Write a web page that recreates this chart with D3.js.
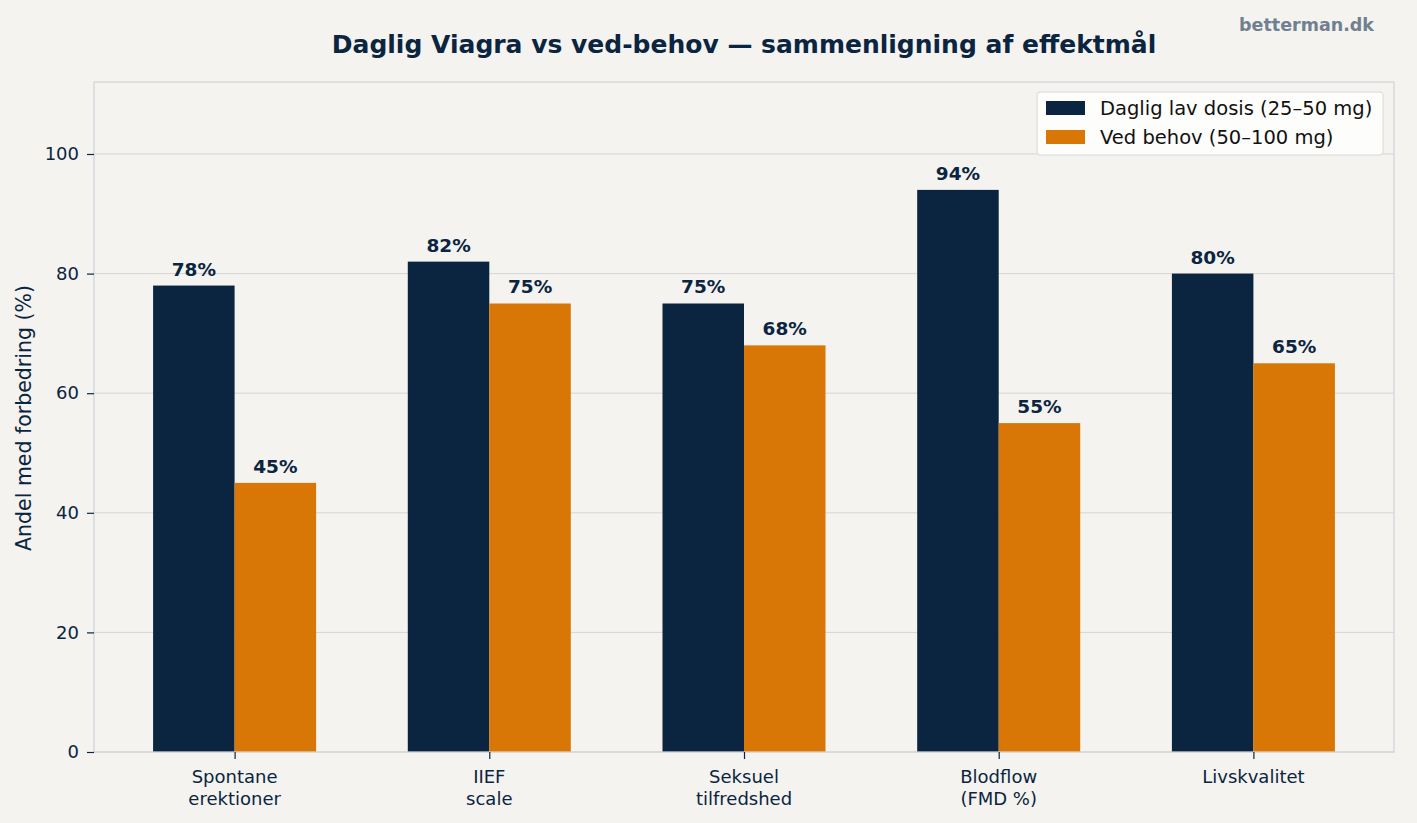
<!DOCTYPE html>
<html><head><meta charset="utf-8">
<script src="https://cdn.jsdelivr.net/npm/d3@7"></script>
<style>
body{margin:0;background:#f4f3ef;}
svg{display:block;font-family:"DejaVu Sans",sans-serif;}
</style></head>
<body><svg id="c" width="1417" height="823"></svg>
<script>
const categories = ["Spontane\nerektioner","IIEF\nscale","Seksuel\ntilfredshed","Blodflow\n(FMD %)","Livskvalitet"];
const dailyValues = [78, 82, 75, 94, 80];
const onDemandValues = [45, 75, 68, 55, 65];
const seriesNames = ["Daglig lav dosis (25–50 mg)", "Ved behov (50–100 mg)"];
const yTicks = [0, 20, 40, 60, 80, 100];
const colors = ["#0b2540", "#d97706"];
const textColor = "#0b2540";

const svg = d3.select("#c");
svg.append("rect").attr("width",1417).attr("height",823).attr("fill","#f4f3ef");
const L=94, R=1394, T=82, B=752;
const barW = 0.32;
const x = d3.scaleLinear().domain([-0.552, 4.552]).range([L, R]);
const y = d3.scaleLinear().domain([0, 112.04]).range([B, T]);

// grid
svg.append("g").selectAll("line").data(yTicks).join("line")
  .attr("x1",L).attr("x2",R).attr("y1",d=>y(d)).attr("y2",d=>y(d))
  .attr("stroke","#d3d5d8").attr("stroke-width",1);

const series = [dailyValues, onDemandValues];
series.forEach((vals, s) => {
  const off = s===0 ? -barW : 0;
  svg.append("g").selectAll("rect").data(vals).join("rect")
    .attr("x", (d,i)=>x(i+off)).attr("width", (d,i)=>x(i+off+barW)-x(i+off))
    .attr("y", d=>y(d)).attr("height", d=>B-y(d)).attr("fill", colors[s]);
  svg.append("g").selectAll("text").data(vals).join("text")
    .attr("x",(d,i)=>x(i+off+barW/2)).attr("y", d=>y(d)-10)
    .attr("text-anchor","middle").attr("font-size",18.5).attr("font-weight","bold")
    .attr("fill",textColor).text(d=>d+"%");
});

// frame
svg.append("rect").attr("x",L).attr("y",T).attr("width",R-L).attr("height",B-T)
  .attr("fill","none").attr("stroke","#d3d5d8").attr("stroke-width",1.3);

// y axis
const yAxis = svg.append("g").attr("transform",`translate(${L},0)`)
  .call(d3.axisLeft(y).tickValues(yTicks).tickSize(7).tickPadding(8));
yAxis.select(".domain").remove();
yAxis.selectAll("line").attr("stroke",textColor).attr("stroke-width",1.2);
yAxis.selectAll("text").attr("font-size",18).attr("fill",textColor).attr("font-family","DejaVu Sans");

// x axis
const xAxis = svg.append("g").attr("transform",`translate(0,${B})`)
  .call(d3.axisBottom(x).tickValues(d3.range(categories.length)).tickSize(7).tickFormat(""));
xAxis.select(".domain").remove();
xAxis.selectAll("line").attr("stroke",textColor).attr("stroke-width",1.2);
categories.forEach((c,i)=>{
  const t = svg.append("text").attr("x",x(i)).attr("y",783).attr("text-anchor","middle")
    .attr("font-size",18).attr("fill",textColor);
  c.split("\n").forEach((ln,j)=>t.append("tspan").attr("x",x(i)).attr("dy",j===0?0:22).text(ln));
});

// y label
svg.append("text").attr("transform",`translate(31,${(T+B)/2 + 1}) rotate(-90)`)
  .attr("text-anchor","middle").attr("font-size",20.5).attr("fill",textColor)
  .text("Andel med forbedring (%)");

// title
svg.append("text").attr("x",744).attr("y",53).attr("text-anchor","middle")
  .attr("font-size",25).attr("font-weight","bold").attr("fill",textColor)
  .text("Daglig Viagra vs ved-behov — sammenligning af effektmål");
svg.append("text").attr("x",1374).attr("y",31).attr("text-anchor","end")
  .attr("font-size",17.5).attr("font-weight","bold").attr("fill","#708090").text("betterman.dk");

// legend
const lg = svg.append("g");
lg.append("rect").attr("x",1037).attr("y",92).attr("width",346).attr("height",63).attr("rx",3)
  .attr("fill","#fdfdfc").attr("stroke","#d8d8d8").attr("stroke-width",1);
seriesNames.forEach((n,i)=>{
  lg.append("rect").attr("x",1046).attr("y",101+i*29).attr("width",39).attr("height",14).attr("fill",colors[i]);
  lg.append("text").attr("x",1100).attr("y",115+i*29).attr("font-size",19.5).attr("fill","#111").text(n);
});
</script></body></html>
